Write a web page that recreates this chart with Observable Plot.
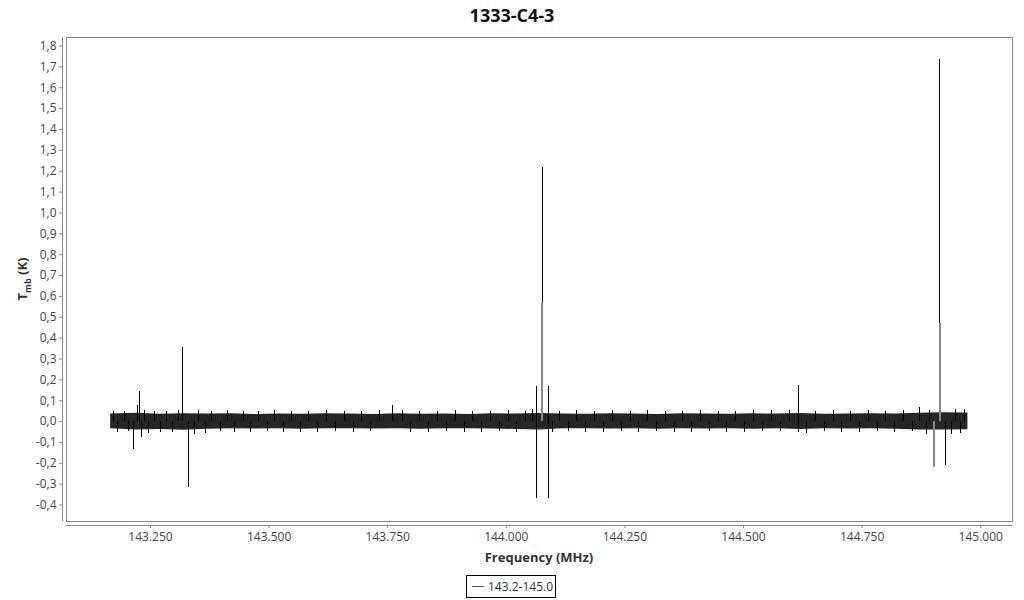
<!DOCTYPE html>
<html><head><meta charset="utf-8">
<script src="https://cdn.jsdelivr.net/npm/d3@7"></script>
<script src="https://cdn.jsdelivr.net/npm/@observablehq/plot@0.6"></script>
<style>body{margin:0;background:#fff;font-family:"Open Sans",sans-serif}</style>
</head><body><div id="chart"></div>
<script>
const title = "1333-C4-3";
const seriesName = "143.2-145.0";
const xLabel = "Frequency (MHz)";
const xTicks = [143.25, 143.5, 143.75, 144.0, 144.25, 144.5, 144.75, 145.0];
const yTicks = [-0.4,-0.3,-0.2,-0.1,0.0,0.1,0.2,0.3,0.4,0.5,0.6,0.7,0.8,0.9,1.0,1.1,1.2,1.3,1.4,1.5,1.6,1.7,1.8];
const xDomain = [143.073, 145.067];
const yDomain = [-0.479, 1.841];

// noise band envelope
const bandFreq = [143.166,143.22,143.27,143.32,143.37,143.42,143.47,143.52,143.57,143.62,143.67,143.72,143.77,143.82,143.87,143.92,143.97,144.02,144.07,144.12,144.17,144.22,144.27,144.32,144.37,144.42,144.47,144.52,144.57,144.62,144.67,144.72,144.77,144.82,144.87,144.92,144.973];
const bandUpper = [0.036,0.040,0.035,0.038,0.036,0.037,0.034,0.036,0.035,0.038,0.036,0.034,0.037,0.035,0.036,0.034,0.038,0.036,0.039,0.036,0.035,0.037,0.036,0.034,0.038,0.036,0.035,0.037,0.036,0.039,0.035,0.036,0.038,0.036,0.040,0.042,0.041];
const bandLower = [-0.034,-0.040,-0.038,-0.042,-0.037,-0.035,-0.036,-0.034,-0.037,-0.035,-0.034,-0.036,-0.034,-0.037,-0.035,-0.034,-0.036,-0.038,-0.040,-0.035,-0.034,-0.036,-0.035,-0.037,-0.034,-0.036,-0.035,-0.037,-0.034,-0.038,-0.035,-0.036,-0.034,-0.037,-0.040,-0.041,-0.039];

// small spikes sticking out of the noise band
const minorFreq = [143.172,143.181,143.196,143.204,143.238,143.246,143.259,143.271,143.283,143.296,143.309,143.342,143.351,143.366,143.379,143.397,143.412,143.428,143.446,143.461,143.478,143.497,143.512,143.531,143.548,143.566,143.584,143.603,143.621,143.640,143.658,143.677,143.695,143.714,143.733,143.781,143.799,143.818,143.836,143.855,143.873,143.892,143.911,143.929,143.948,143.966,143.985,144.004,144.022,144.041,144.055,144.098,144.112,144.131,144.149,144.168,144.186,144.205,144.224,144.242,144.261,144.279,144.298,144.317,144.335,144.354,144.372,144.391,144.410,144.428,144.447,144.465,144.484,144.503,144.521,144.540,144.558,144.577,144.596,144.633,144.651,144.670,144.689,144.707,144.726,144.744,144.763,144.782,144.800,144.819,144.837,144.856,144.885,144.893,144.938,144.947,144.958,144.966];
const minorValue = [0.048,-0.052,0.050,-0.047,0.055,-0.058,0.049,-0.053,0.047,-0.050,0.052,-0.060,0.051,-0.055,0.048,-0.049,0.053,-0.051,0.047,-0.054,0.050,-0.048,0.052,-0.050,0.049,-0.053,0.047,-0.051,0.054,-0.049,0.048,-0.052,0.050,-0.048,0.053,0.051,-0.050,0.048,-0.053,0.050,-0.049,0.052,-0.051,0.047,-0.054,0.050,-0.048,0.053,-0.050,0.049,0.056,-0.052,0.050,-0.049,0.053,-0.051,0.048,-0.050,0.052,-0.049,0.047,-0.053,0.051,-0.048,0.050,-0.052,0.049,-0.051,0.053,-0.048,0.050,-0.052,0.047,-0.050,0.053,-0.049,0.051,-0.048,0.052,-0.058,0.050,-0.049,0.053,-0.051,0.048,-0.050,0.052,-0.049,0.047,-0.053,0.051,-0.048,-0.062,0.055,-0.060,0.058,-0.055,0.056];

// main line spikes (black)
const spikeFreq = [143.215,143.222,143.227,143.232,143.318,143.330,143.760,144.064,144.076,144.088,144.616,144.871,144.914,144.926];
const spikeFrom = [0,0,0,0,0,0,0,-0.371,0.566,-0.371,-0.05,0,0.47,0];
const spikeTo   = [-0.134,0.077,0.144,-0.077,0.353,-0.316,0.077,0.168,1.216,0.168,0.173,0.069,1.734,-0.211];

// blended (grey) parts of spikes
const grayFreq = [144.076,144.902,144.914];
const grayFrom = [0,0,0];
const grayTo   = [0.566,-0.219,0.47];

const band = bandFreq.map((f,i)=>({f, hi:bandUpper[i], lo:bandLower[i]}));
const minor = minorFreq.map((f,i)=>({f, v:minorValue[i]}));
const spikes = spikeFreq.map((f,i)=>({f, a:spikeFrom[i], b:spikeTo[i]}));
const grays = grayFreq.map((f,i)=>({f, a:grayFrom[i], b:grayTo[i]}));

const plot = Plot.plot({
  width: 1024, height: 600,
  marginLeft: 66, marginRight: 12, marginTop: 37, marginBottom: 79,
  style: {fontFamily: "'Open Sans', sans-serif", fontSize: "12px", background: "white"},
  x: {domain: xDomain},
  y: {domain: yDomain},
  marks: [
    Plot.frame({stroke: "#888", shapeRendering: "crispEdges"}),
    Plot.ruleX([xDomain[0]], {dx: -4, stroke: "#888", shapeRendering: "crispEdges"}),
    Plot.ruleY([yDomain[0]], {dy: 4, stroke: "#888", shapeRendering: "crispEdges"}),
    Plot.axisY(yTicks, {dx: -4, tickSize: 3, tickPadding: 3, label: null, stroke: "#888", fill: "#444", fontSize: 12,
      tickFormat: d => d.toFixed(1).replace(".", ",")}),
    Plot.axisX(xTicks, {dy: 4, tickSize: 3, tickPadding: 4, label: null, stroke: "#888", fill: "#444", fontSize: 12,
      tickFormat: d => d.toFixed(3)}),
    Plot.areaY(band, {x: "f", y1: "lo", y2: "hi", fill: "#262626"}),
    Plot.ruleX(minor, {x: "f", y1: 0, y2: "v", stroke: "black", strokeWidth: 1, shapeRendering: "crispEdges"}),
    Plot.ruleX(grays, {x: "f", y1: "a", y2: "b", stroke: "#888", strokeWidth: 2, shapeRendering: "crispEdges"}),
    Plot.ruleX(spikes, {x: "f", y1: "a", y2: "b", stroke: "black", strokeWidth: 1, shapeRendering: "crispEdges"})
  ]
});
document.getElementById("chart").append(plot);

const svg = d3.select(plot);
svg.append("text").attr("x", 512).attr("y", 22).attr("text-anchor", "middle")
  .attr("font-size", 18).attr("font-weight", "bold").attr("fill", "#111").text(title);
svg.append("text").attr("x", 539).attr("y", 562).attr("text-anchor", "middle")
  .attr("font-size", 13).attr("font-weight", "bold").attr("fill", "#333").text(xLabel);
const yl = svg.append("text").attr("transform", "translate(27,279) rotate(-90)").attr("text-anchor", "middle")
  .attr("font-size", 13).attr("font-weight", "bold").attr("fill", "#333");
yl.append("tspan").text("T");
yl.append("tspan").attr("font-size", 9).attr("dy", 4).text("mb");
yl.append("tspan").attr("dy", -4).text(" (K)");
const lg = svg.append("g").attr("text-anchor", "start");
lg.append("rect").attr("x", 466.5).attr("y", 575.5).attr("width", 89).attr("height", 22)
  .attr("fill", "white").attr("stroke", "black").attr("shape-rendering", "crispEdges");
lg.append("line").attr("x1", 472).attr("x2", 484).attr("y1", 586.5).attr("y2", 586.5).attr("stroke", "#555");
lg.append("text").attr("x", 488).attr("y", 591).attr("font-size", 12).attr("fill", "#333").attr("text-anchor", "start").text(seriesName);
</script></body></html>
